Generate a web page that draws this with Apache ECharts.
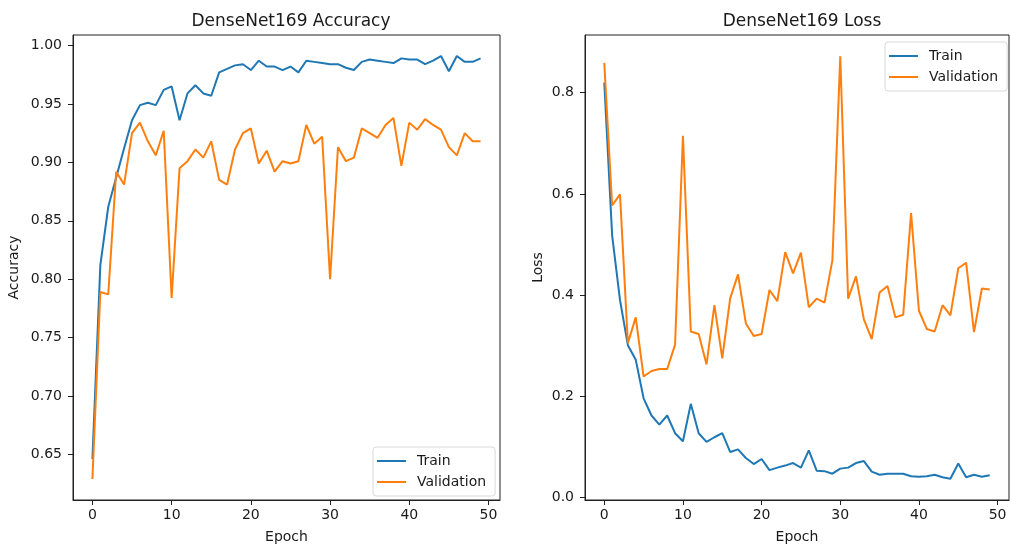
<!DOCTYPE html>
<html>
<head>
<meta charset="utf-8">
<script src="https://cdn.jsdelivr.net/npm/echarts@6/dist/echarts.min.js"></script>
<style>
  html, body { margin: 0; padding: 0; background: #fff; }
  #chart { width: 1010px; height: 545px; }
</style>
</head>
<body>
<div id="chart"></div>
<script>
const epochs = [0, 1, 2, 3, 4, 5, 6, 7, 8, 9, 10, 11, 12, 13, 14, 15, 16, 17, 18, 19,
  20, 21, 22, 23, 24, 25, 26, 27, 28, 29, 30, 31, 32, 33, 34, 35, 36, 37, 38, 39,
  40, 41, 42, 43, 44, 45, 46, 47, 48, 49]

const accTrain = [0.646, 0.812, 0.862, 0.887, 0.912, 0.936, 0.949, 0.951, 0.949, 0.962,
  0.965, 0.936, 0.959, 0.966, 0.959, 0.957, 0.977, 0.980, 0.983, 0.984,
  0.979, 0.987, 0.982, 0.982, 0.979, 0.982, 0.977, 0.987, 0.986, 0.985,
  0.984, 0.984, 0.981, 0.979, 0.986, 0.988, 0.987, 0.986, 0.985, 0.989,
  0.988, 0.988, 0.984, 0.987, 0.991, 0.978, 0.991, 0.986, 0.986, 0.989]

const accVal = [0.629, 0.789, 0.787, 0.892, 0.881, 0.925, 0.934, 0.918, 0.906, 0.927,
  0.784, 0.895, 0.901, 0.911, 0.904, 0.918, 0.885, 0.881, 0.911, 0.925,
  0.929, 0.899, 0.910, 0.892, 0.901, 0.899, 0.901, 0.932, 0.916, 0.922,
  0.800, 0.913, 0.901, 0.904, 0.929, 0.925, 0.921, 0.932, 0.938, 0.897,
  0.934, 0.928, 0.937, 0.932, 0.928, 0.913, 0.906, 0.925, 0.918, 0.918]

const lossTrain = [0.820, 0.518, 0.390, 0.301, 0.272, 0.196, 0.162, 0.144, 0.162, 0.127,
  0.111, 0.185, 0.127, 0.110, 0.119, 0.127, 0.090, 0.095, 0.078, 0.066,
  0.076, 0.054, 0.059, 0.063, 0.068, 0.059, 0.093, 0.053, 0.052, 0.047,
  0.057, 0.059, 0.068, 0.072, 0.051, 0.045, 0.047, 0.047, 0.047, 0.042,
  0.041, 0.042, 0.045, 0.040, 0.037, 0.067, 0.040, 0.045, 0.041, 0.044]

const lossVal = [0.859, 0.577, 0.599, 0.305, 0.356, 0.239, 0.250, 0.254, 0.254, 0.302,
  0.715, 0.328, 0.323, 0.263, 0.380, 0.275, 0.393, 0.441, 0.344, 0.319,
  0.323, 0.410, 0.388, 0.485, 0.443, 0.484, 0.376, 0.393, 0.385, 0.469,
  0.872, 0.393, 0.437, 0.352, 0.313, 0.405, 0.418, 0.356, 0.361, 0.562,
  0.369, 0.333, 0.328, 0.380, 0.360, 0.453, 0.464, 0.327, 0.413, 0.411]

const epochTicks = [0, 10, 20, 30, 40, 50]
const accTicks = [0.65, 0.70, 0.75, 0.80, 0.85, 0.90, 0.95, 1.00]
const lossTicks = [0.0, 0.2, 0.4, 0.6, 0.8]

const FONT = 'DejaVu Sans'
const TXT = '#1a1a1a'
const BLUE = '#1f77b4'
const ORANGE = '#ff7f0e'
const SPINE = '#222'

function pairs(ys) {
  return epochs.map((e, i) => [e, ys[i]])
}

// matplotlib-style outside ticks
function tickStyle(ticks) {
  return { show: true, inside: false, length: 5, customValues: ticks, lineStyle: { color: SPINE, width: 1 } }
}

function xAxis(gridIndex) {
  return {
    type: 'value',
    gridIndex,
    min: -2.45,
    max: 51.45,
    name: 'Epoch',
    nameLocation: 'middle',
    nameGap: 30,
    nameTextStyle: { fontFamily: FONT, fontSize: 14, color: TXT },
    axisLine: { show: true, onZero: false, lineStyle: { color: SPINE, width: 1 } },
    splitLine: { show: false },
    axisTick: tickStyle(epochTicks),
    axisLabel: { customValues: epochTicks, margin: 8, fontFamily: FONT, fontSize: 14, color: TXT },
  }
}

function yAxis(gridIndex, name, min, max, ticks, digits, gap) {
  return {
    type: 'value',
    gridIndex,
    min,
    max,
    name,
    nameLocation: 'middle',
    nameRotate: 90,
    nameGap: gap,
    nameTextStyle: { fontFamily: FONT, fontSize: 14, color: TXT },
    axisLine: { show: true, onZero: false, lineStyle: { color: SPINE, width: 1 } },
    splitLine: { show: false },
    axisTick: tickStyle(ticks),
    axisLabel: {
      customValues: ticks,
      margin: 11,
      fontFamily: FONT,
      fontSize: 14,
      color: TXT,
      formatter: (v) => v.toFixed(digits),
    },
  }
}

function legend(left, top) {
  return {
    orient: 'vertical',
    left,
    top,
    data: ['Train', 'Validation'],
    icon: 'rect',
    itemWidth: 29,
    itemHeight: 2,
    itemGap: 5,
    padding: [6, 9, 6, 4],
    backgroundColor: 'rgba(255,255,255,0.8)',
    borderColor: '#d9d9d9',
    borderWidth: 1,
    borderRadius: 3,
    selectedMode: false,
    textStyle: { fontFamily: FONT, fontSize: 14, color: TXT, padding: [0, 0, 0, 6], lineHeight: 16 },
  }
}

function line(name, xi, data, color) {
  return {
    name,
    type: 'line',
    xAxisIndex: xi,
    yAxisIndex: xi,
    data,
    showSymbol: false,
    symbol: 'none',
    animation: false,
    lineStyle: { color, width: 2 },
    itemStyle: { color },
  }
}

const chart = echarts.init(document.getElementById('chart'))
chart.setOption({
  backgroundColor: '#fff',
  animation: false,
  textStyle: { fontFamily: FONT },
  title: [
    { text: 'DenseNet169 Accuracy', left: 286, top: 8, textAlign: 'center', textStyle: { fontFamily: FONT, fontSize: 17, fontWeight: 'normal', color: TXT } },
    { text: 'DenseNet169 Loss', left: 797, top: 8, textAlign: 'center', textStyle: { fontFamily: FONT, fontSize: 17, fontWeight: 'normal', color: TXT } },
  ],
  grid: [
    { left: 73, right: 510, top: 35, bottom: 45, show: true, borderColor: SPINE, borderWidth: 1, backgroundColor: 'transparent', outerBoundsMode: 'none', containLabel: false },
    { left: 585, right: 1, top: 35, bottom: 45, show: true, borderColor: SPINE, borderWidth: 1, backgroundColor: 'transparent', outerBoundsMode: 'none', containLabel: false },
  ],
  xAxis: [xAxis(0), xAxis(1)],
  yAxis: [
    yAxis(0, 'Accuracy', 0.611, 1.009, accTicks, 2, 52),
    yAxis(1, 'Loss', -0.005, 0.914, lossTicks, 1, 40),
  ],
  legend: [legend(373, 447), legend(885, 42)],
  series: [
    line('Train', 0, pairs(accTrain), BLUE),
    line('Validation', 0, pairs(accVal), ORANGE),
    line('Train', 1, pairs(lossTrain), BLUE),
    line('Validation', 1, pairs(lossVal), ORANGE),
  ],
})
</script>
</body>
</html>
